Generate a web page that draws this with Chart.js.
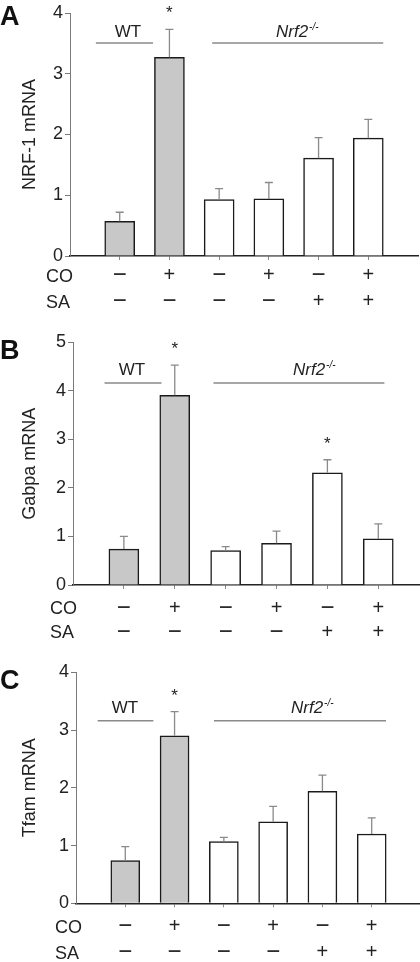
<!DOCTYPE html>
<html><head><meta charset="utf-8">
<script src="https://cdn.jsdelivr.net/npm/chart.js@4"></script>
<style>
body{margin:0;background:#fff}
#wrap{position:relative;width:420px;height:962px;background:#fff}
canvas{position:absolute;left:0}
</style>
</head><body><div id="wrap">
<canvas id="cA" width="420" height="320" style="top:0"></canvas>
<canvas id="cB" width="420" height="320" style="top:320px"></canvas>
<canvas id="cC" width="420" height="322" style="top:640px"></canvas>
</div>
<script>
// ---- data ----
const categories = ['WT', 'WT CO', 'Nrf2-/-', 'Nrf2-/- CO', 'Nrf2-/- SA', 'Nrf2-/- CO SA'];
const genotype = ['WT', 'WT', 'Nrf2', 'Nrf2', 'Nrf2', 'Nrf2'];
const coRow = ['\u2212', '+', '\u2212', '+', '\u2212', '+'];
const saRow = ['\u2212', '\u2212', '\u2212', '\u2212', '+', '+'];

const nrf1Mean = [0.57, 3.27, 0.93, 0.94, 1.61, 1.94];
const nrf1Err  = [0.15, 0.46, 0.18, 0.27, 0.34, 0.31];
const nrf1Sig  = [1];
const nrf1Ticks = [0, 1, 2, 3, 4];

const gabpaMean = [0.74, 3.91, 0.71, 0.86, 2.31, 0.95];
const gabpaErr  = [0.26, 0.62, 0.08, 0.25, 0.27, 0.31];
const gabpaSig  = [1, 4];
const gabpaTicks = [0, 1, 2, 3, 4, 5];

const tfamMean = [0.74, 2.90, 1.07, 1.41, 1.94, 1.20];
const tfamErr  = [0.24, 0.42, 0.07, 0.27, 0.28, 0.28];
const tfamSig  = [1];
const tfamTicks = [0, 1, 2, 3, 4];

// ---- layout / style ----
const FONT = '"Liberation Sans", Arial, Helvetica, sans-serif';
const panels = [
  {id:'cA', letter:'A', letterY:25, title:'NRF-1 mRNA', mean:nrf1Mean, err:nrf1Err, sig:nrf1Sig, ticks:nrf1Ticks,
   left:70, top:13, right:2, bottom:64, xMax:7.0, barW:30,
   wtLine:[0.52, 1.67], nrfLine:[2.86, 6.3], lineY:43, textY:37, wtX:128, nrfX:276,
   rowX:46, coY:277.5, saY:303, symDy:-2},
  {id:'cB', letter:'B', letterY:39, title:'Gabpa mRNA', mean:gabpaMean, err:gabpaErr, sig:gabpaSig, ticks:gabpaTicks,
   left:73, top:22.3, right:0, bottom:55, xMax:6.82, barW:30,
   wtLine:[0.62, 1.74], nrfLine:[2.76, 6.12], lineY:63, textY:55, wtX:132, nrfX:293,
   rowX:50, coY:289, saY:313.5, symDy:-1},
  {id:'cC', letter:'C', letterY:49, title:'Tfam mRNA', mean:tfamMean, err:tfamErr, sig:tfamSig, ticks:tfamTicks,
   left:76, top:32.3, right:0, bottom:58.7, xMax:6.98, barW:29,
   wtLine:[0.44, 1.57], nrfLine:[2.8, 6.29], lineY:80.7, textY:72.7, wtX:125, nrfX:291,
   rowX:55, coY:288, saY:314, symDy:-2}
];

function makeChart(p) {
  const annot = {
    id: 'annot' + p.letter,
    afterDatasetsDraw(chart) {
      const ctx = chart.ctx, ys = chart.scales.y;
      const meta = chart.getDatasetMeta(0);
      ctx.save();
      // error bars
      ctx.strokeStyle = '#8a8a8a';
      ctx.lineWidth = 1.3;
      p.mean.forEach((m, i) => {
        const el = meta.data[i];
        const yTop = ys.getPixelForValue(m + p.err[i]);
        ctx.beginPath();
        ctx.moveTo(el.x, el.y); ctx.lineTo(el.x, yTop);
        ctx.moveTo(el.x - 4, yTop); ctx.lineTo(el.x + 4, yTop);
        ctx.stroke();
      });
      // asterisks
      ctx.fillStyle = '#222';
      ctx.font = '17px ' + FONT;
      ctx.textAlign = 'center';
      ctx.textBaseline = 'alphabetic';
      p.sig.forEach(i => {
        const yTop = ys.getPixelForValue(p.mean[i] + p.err[i]);
        ctx.fillText('*', meta.data[i].x, yTop - 21 + 10);
      });
      ctx.restore();
    },
    afterDraw(chart) {
      const ctx = chart.ctx, xs = chart.scales.x;
      ctx.save();
      // panel letter
      ctx.fillStyle = '#111';
      ctx.font = 'bold 27px ' + FONT;
      ctx.textAlign = 'left';
      ctx.textBaseline = 'alphabetic';
      ctx.fillText(p.letter, 0, p.letterY);
      // group lines
      ctx.strokeStyle = '#8a8a8a';
      ctx.lineWidth = 1.5;
      ctx.beginPath();
      ctx.moveTo(xs.getPixelForValue(p.wtLine[0]), p.lineY);
      ctx.lineTo(xs.getPixelForValue(p.wtLine[1]), p.lineY);
      ctx.moveTo(xs.getPixelForValue(p.nrfLine[0]), p.lineY);
      ctx.lineTo(xs.getPixelForValue(p.nrfLine[1]), p.lineY);
      ctx.stroke();
      // group texts
      ctx.fillStyle = '#222';
      ctx.font = '17px ' + FONT;
      ctx.textAlign = 'center';
      ctx.fillText('WT', p.wtX, p.textY);
      ctx.textAlign = 'left';
      ctx.font = 'italic 17px ' + FONT;
      ctx.fillText('Nrf2', p.nrfX, p.textY);
      const w = ctx.measureText('Nrf2').width;
      ctx.font = 'italic 10px ' + FONT;
      ctx.fillText('-/-', p.nrfX + w + 1, p.textY - 7);
      // CO / SA rows
      ctx.font = '18px ' + FONT;
      ctx.textBaseline = 'middle';
      ctx.textAlign = 'left';
      ctx.fillText('CO', p.rowX, p.coY);
      ctx.fillText('SA', p.rowX, p.saY);
      ctx.textAlign = 'center';
      const sym = (s, x, y) => {
        ctx.font = (s === '+' ? '20px ' : '24px ') + FONT;
        ctx.fillText(s, x, y);
      };
      categories.forEach((c, i) => {
        const x = xs.getPixelForValue(i + 1);
        sym(coRow[i], x, p.coY + p.symDy);
        sym(saRow[i], x, p.saY + p.symDy);
      });
      ctx.restore();
    }
  };

  return new Chart(document.getElementById(p.id), {
    type: 'bar',
    data: {
      labels: categories,
      datasets: [{
        label: p.title,
        data: p.mean.map((v, i) => ({x: i + 1, y: v})),
        backgroundColor: genotype.map(g => g === 'WT' ? '#c8c8c8' : '#ffffff'),
        borderColor: '#1a1a1a',
        borderWidth: 1.5,
        barThickness: p.barW
      }]
    },
    options: {
      responsive: false,
      animation: false,
      devicePixelRatio: 1,
      layout: {padding: {left: 0, top: p.top, right: p.right, bottom: p.bottom}},
      plugins: {legend: {display: false}, tooltip: {enabled: false}},
      scales: {
        x: {
          type: 'linear', min: 0, max: p.xMax, offset: false, bounds: 'data',
          afterBuildTicks: s => { s.ticks = categories.map((c, i) => ({value: i + 1})); },
          afterFit: s => { s.height = 0; },
          ticks: {display: false},
          grid: {offset: false, drawOnChartArea: false, drawTicks: true, tickLength: 4, color: '#8a8a8a', lineWidth: 1},
          border: {color: '#222', width: 1.5}
        },
        y: {
          min: 0, max: p.ticks[p.ticks.length - 1],
          afterBuildTicks: s => { s.ticks = p.ticks.map(v => ({value: v})); },
          afterFit: s => { s.width = p.left; },
          ticks: {font: {family: FONT, size: 18}, color: '#222', padding: 2},
          grid: {drawOnChartArea: false, drawTicks: true, tickLength: 5, color: '#7a7a7a'},
          border: {color: '#7a7a7a', width: 1},
          title: {display: true, text: p.title, font: {family: FONT, size: 18}, color: '#222', padding: {top: 19, bottom: 0}}
        }
      }
    },
    plugins: [annot]
  });
}
panels.forEach(makeChart);
</script>
</body></html>
